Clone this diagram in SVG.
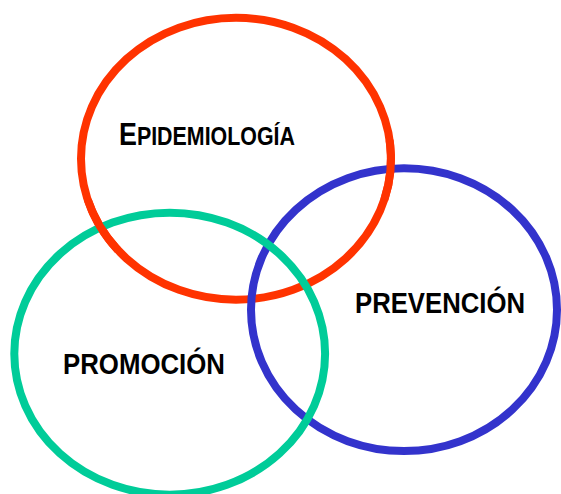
<svg xmlns="http://www.w3.org/2000/svg" width="561" height="494" viewBox="0 0 561 494">
  <style>
    .ring { fill: none; stroke-width: 8; }
    .red { stroke: #FF3300; }
    .blue { stroke: #3333CC; }
    .green { stroke: #00CC99; }
    .label { font-family: "Liberation Sans", Arial, sans-serif; font-weight: bold; fill: #000000; }
  </style>
  <rect width="561" height="494" fill="#FFFFFF"/>
  <g id="epidemiologia">
    <ellipse class="ring red" cx="236" cy="158.75" rx="155" ry="141"/>
    <text class="label" x="119" y="145" textLength="176" lengthAdjust="spacingAndGlyphs"><tspan font-size="32">E</tspan><tspan font-size="25.5">PIDEMIOLOGÍA</tspan></text>
  </g>
  <g id="prevencion">
    <ellipse class="ring blue" cx="404" cy="309.7" rx="153" ry="141.4"/>
    <text class="label" x="355" y="313" font-size="29" textLength="170" lengthAdjust="spacingAndGlyphs">PREVENCIÓN</text>
  </g>
  <g id="promocion">
    <ellipse class="ring green" cx="169.7" cy="353.7" rx="155.4" ry="141"/>
    <text class="label" x="63" y="374" font-size="29" textLength="162" lengthAdjust="spacingAndGlyphs">PROMOCIÓN</text>
  </g>
  <g id="overlaps">
    <path class="ring red" d="M 87.8 200 A 155 141 0 0 0 117.8 250"/>
    <path class="ring red" d="M 389.6 140 A 155 141 0 0 1 384.2 200"/>
  </g>
</svg>
